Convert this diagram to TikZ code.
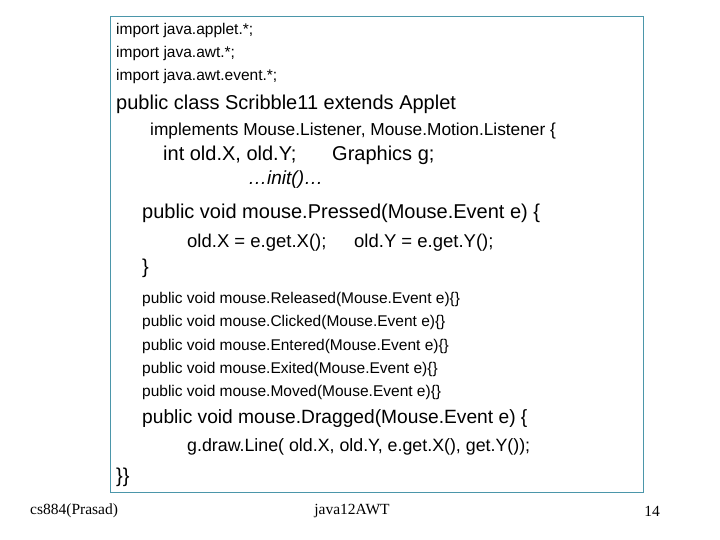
\documentclass[tikz,border=0pt]{standalone}
\usepackage{fontspec}
\setmainfont{Liberation Sans}
\newfontfamily\footfont{Liberation Serif}
\definecolor{boxline}{RGB}{75,150,170}
\tikzset{
  codeline/.style={anchor=west,inner sep=0pt,font=\fontsize{15.5}{17}\selectfont},
  biglinebox/.style={anchor=west,inner sep=0pt,font=\fontsize{18.5}{20}\selectfont},
  hugeline/.style={anchor=west,inner sep=0pt,font=\fontsize{20}{22}\selectfont},
  midline/.style={anchor=west,inner sep=0pt,font=\fontsize{17.3}{19}\selectfont},
  footline/.style={inner sep=0pt,font=\footfont\fontsize{15.5}{17}\selectfont}
}
\begin{document}
\begin{tikzpicture}[x=1pt,y=-1pt]
  \useasboundingbox (0,0) rectangle (720,540);
  \draw[boxline,line width=1pt] (110,17) rectangle (643,492);
  % imports
  \node[codeline] (imp1) at (116,30) {import java.applet.*;};
  \node[codeline] (imp2) at (116,53) {import java.awt.*;};
  \node[codeline] (imp3) at (116,76) {import java.awt.event.*;};
  % class header
  \node[hugeline] (cls) at (116,104) {public class Scribble11 extends Applet};
  \node[midline] (impl) at (150,131) {implements Mouse.Listener, Mouse.Motion.Listener \{};
  \node[hugeline] (fld) at (163,155) {int old.X, old.Y;};
  \node[hugeline] (gfx) at (332,155) {Graphics g;};
  \node[midline,font=\fontsize{19}{21}\selectfont\itshape] (init) at (248,180) {…init()…};
  % pressed
  \node[hugeline] (prs) at (142,213) {public void mouse.Pressed(Mouse.Event e) \{};
  \node[biglinebox] (prsx) at (187,243) {old.X = e.get.X();};
  \node[biglinebox] (prsy) at (354,243) {old.Y = e.get.Y();};
  \node[hugeline] (prse) at (142,268) {\}};
  % empty handlers
  \node[codeline] (rel) at (142,299) {public void mouse.Released(Mouse.Event e)\{\}};
  \node[codeline] (clk) at (142,322) {public void mouse.Clicked(Mouse.Event e)\{\}};
  \node[codeline] (ent) at (142,346) {public void mouse.Entered(Mouse.Event e)\{\}};
  \node[codeline] (ext) at (142,369) {public void mouse.Exited(Mouse.Event e)\{\}};
  \node[codeline] (mov) at (142,392) {public void mouse.Moved(Mouse.Event e)\{\}};
  % dragged
  \node[hugeline,font=\fontsize{19.2}{21}\selectfont] (drg) at (142,419) {public void mouse.Dragged(Mouse.Event e) \{};
  \node[biglinebox,font=\fontsize{17.8}{20}\selectfont] (drgl) at (187,447) {g.draw.Line( old.X, old.Y, e.get.X(), get.Y());};
  \node[hugeline] (cend) at (116,477) {\}\}};
  % footer
  \node[footline,anchor=west] (auth) at (30,511) {cs884(Prasad)};
  \node[footline] (ttl) at (352,511) {java12AWT};
  \node[footline,anchor=east] (pg) at (660,511) {14};
\end{tikzpicture}
\end{document}
